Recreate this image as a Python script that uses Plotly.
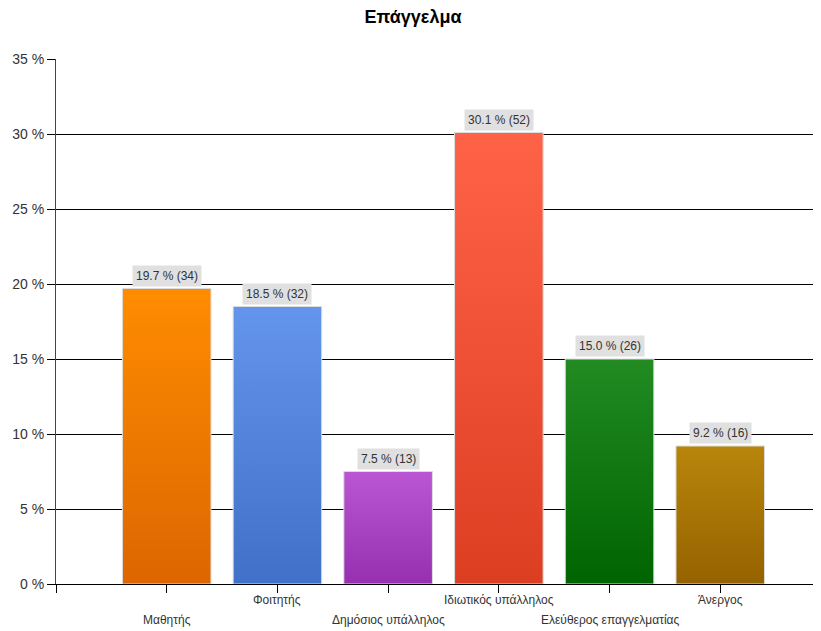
import plotly.graph_objects as go

categories = ["Μαθητής", "Φοιτητής", "Δημόσιος υπάλληλος", "Ιδιωτικός υπάλληλος",
              "Ελεύθερος επαγγελματίας", "Άνεργος"]
percentages = [19.7, 18.5, 7.5, 30.1, 15.0, 9.2]
counts = [34, 32, 13, 52, 26, 16]
top_colors = ["#FF8C00", "#6495ED", "#BA55D3", "#FF6347", "#228B22", "#B8860B"]
bottom_colors = ["#DD6600", "#4070C8", "#9630B0", "#DC3E22", "#006400", "#956200"]
y_ticks = [0, 5, 10, 15, 20, 25, 30, 35]

FONT = "Liberation Sans, Arial, sans-serif"
half = 0.4

fig = go.Figure()
for i, (cat, v) in enumerate(zip(categories, percentages)):
    fig.add_trace(go.Scatter(
        x=[i - half, i + half, i + half, i - half, i - half],
        y=[0, 0, v, v, 0],
        mode="lines",
        fill="toself",
        fillgradient=dict(type="vertical", start=0, stop=v,
                          colorscale=[[0, bottom_colors[i]], [1, top_colors[i]]]),
        line=dict(color="#DCDCDC", width=1),
        name=cat,
        hoverinfo="skip",
        showlegend=False,
    ))

annotations = []
for i, (p, n) in enumerate(zip(percentages, counts)):
    annotations.append(dict(
        x=i, y=p, xref="x", yref="y",
        text=f"{p:.1f} % ({n})",
        showarrow=False, yanchor="bottom", yshift=2,
        bgcolor="#E0E0E0", borderpad=3,
        font=dict(family=FONT, size=12, color="#333333"),
    ))

# staggered category labels below the axis
for i, c in enumerate(categories):
    annotations.append(dict(
        x=i, y=0, xref="x", yref="y",
        text=c, showarrow=False,
        yanchor="middle", yshift=-16 if i % 2 == 1 else -36,
        font=dict(family=FONT, size=12, color="#333333"),
    ))

W, H = 813, 623  # page body adds an 8px offset
fig.update_layout(
    width=W, height=H,
    margin=dict(l=48, r=0, t=51, b=47, autoexpand=False),
    paper_bgcolor="white", plot_bgcolor="white",
    title=dict(text="<b>Επάγγελμα</b>", x=(413 - 8) / W, xanchor="center",
               y=1 - 9 / H, yanchor="middle", yref="container",
               font=dict(family=FONT, size=18, color="#000000")),
    annotations=annotations,
    xaxis=dict(
        range=[-1, 5.91], automargin=False,
        tickmode="array", tickvals=list(range(-1, len(categories))),
        ticktext=[""] * (len(categories) + 1),
        ticks="outside", ticklen=8, tickcolor="#000000",
        showline=True, linecolor="#000000", linewidth=1,
        showgrid=False, zeroline=False,
        fixedrange=True,
    ),
    yaxis=dict(
        range=[0, 35], automargin=False,
        tickmode="array", tickvals=y_ticks, ticktext=[f"{t} %" for t in y_ticks],
        ticks="outside", ticklen=8, tickcolor="#000000",
        showline=True, linecolor="#444444", linewidth=1,
        showgrid=True, gridcolor="#000000", gridwidth=1,
        zeroline=False,
        tickfont=dict(family=FONT, size=14, color="#333333"),
        fixedrange=True,
    ),
)

fig.write_html("out.html")
